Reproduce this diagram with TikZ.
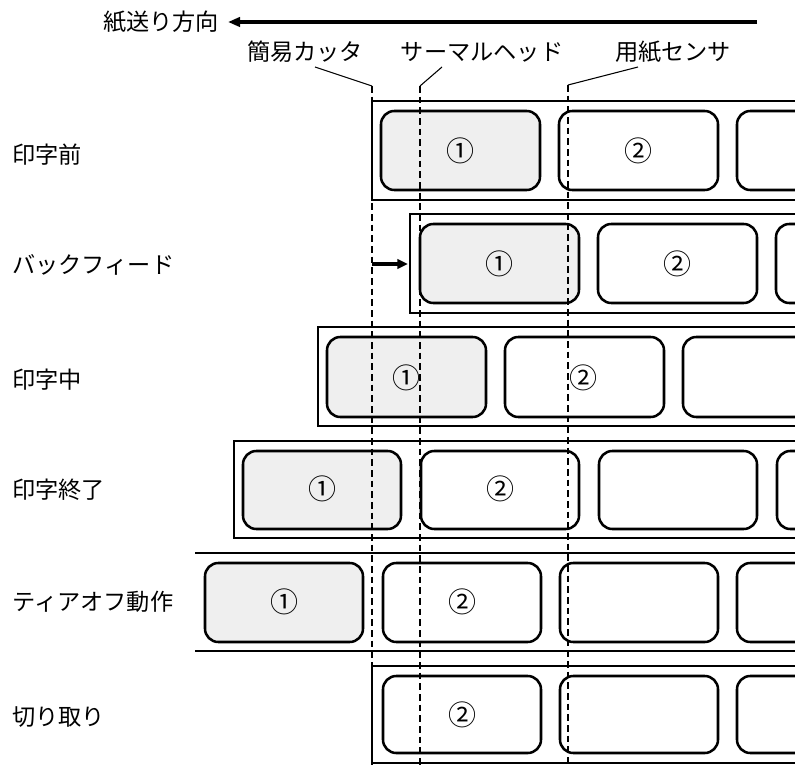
\documentclass[tikz,border=0pt]{standalone}
\usepackage{fontspec}
\newfontfamily\jp{Noto Sans CJK JP}
\usetikzlibrary{arrows.meta}
\definecolor{labgray}{HTML}{EFEFEF}
\tikzset{
  lbl/.style={font=\jp\fontsize{17.4}{20}\selectfont, inner sep=0pt},
  rowlbl/.style={lbl, anchor=west},
  num/.style={font=\jp\fontsize{21}{24}\selectfont, inner sep=0pt},
  stripline/.style={line width=1.9pt},
  labbox/.style={line width=1.9pt, rounded corners=10pt},
  firstbox/.style={labbox, fill=labgray},
  guide/.style={line width=0.8pt, dash pattern=on 5pt off 3pt},
  leader/.style={line width=0.8pt},
}
\begin{document}
\begin{tikzpicture}[x=0.75pt,y=-0.75pt]
\useasboundingbox (0,0) rectangle (795,767);
\begin{scope}
\clip (0,0) rectangle (795,767);

% title and feed arrow
\node[lbl] (feed) at (161,22) {紙送り方向};
\coordinate (arrR) at (757,22);
\coordinate (arrL) at (228,22);
\draw[line width=2.6pt, -{Triangle[length=9pt,width=7pt]}] (arrR) -- (arrL);

% component labels
\node[lbl] (cutter) at (305,52) {簡易カッタ};
\node[lbl] (head) at (482,52) {サーマルヘッド};
\node[lbl] (sensor) at (673,52) {用紙センサ};

% row labels
\node[rowlbl] (r1) at (12,155) {印字前};
\node[rowlbl] (r2) at (12,265) {バックフィード};
\node[rowlbl] (r3) at (12,380) {印字中};
\node[rowlbl] (r4) at (12,490) {印字終了};
\node[rowlbl] (r5) at (12,602) {ティアオフ動作};
\node[rowlbl] (r6) at (12,717) {切り取り};

% row 1: before printing
\draw[stripline] (800,101) -- (372,101) -- (372,200) -- (800,200);
\draw[firstbox] (381,111) rectangle ++(159,79);
\foreach \x in {559,737} \draw[labbox] (\x,111) rectangle ++(159,79);
\node[num] (a1) at (460,151) {①};
\node[num] (a2) at (638,151) {②};

% row 2: back feed
\draw[stripline] (800,214) -- (410,214) -- (410,313) -- (800,313);
\draw[firstbox] (420,224) rectangle ++(159,79);
\foreach \x in {598,776} \draw[labbox] (\x,224) rectangle ++(159,79);
\node[num] (b1) at (499,264) {①};
\node[num] (b2) at (677,264) {②};
\coordinate (bfL) at (372,264);
\coordinate (bfR) at (408,264);
\draw[line width=2.4pt, -{Triangle[length=8pt,width=7pt]}] (bfL) -- (bfR);

% row 3: printing
\draw[stripline] (800,327) -- (318,327) -- (318,426) -- (800,426);
\draw[firstbox] (327,337) rectangle ++(159,80);
\foreach \x in {505,683} \draw[labbox] (\x,337) rectangle ++(159,80);
\node[num] (c1) at (406,378) {①};
\node[num] (c2) at (583,378) {②};

% row 4: printing finished
\draw[stripline] (800,441) -- (234,441) -- (234,538) -- (800,538);
\draw[firstbox] (243,451) rectangle ++(158,78);
\foreach \x in {421,599,777} \draw[labbox] (\x,451) rectangle ++(158,78);
\node[num] (d1) at (322,489) {①};
\node[num] (d2) at (500,489) {②};

% row 5: tear-off operation
\draw[stripline] (195,553) -- (800,553);
\draw[stripline] (195,651) -- (800,651);
\draw[firstbox] (205,563) rectangle ++(158,79);
\foreach \x in {383,560,737} \draw[labbox] (\x,563) rectangle ++(158,79);
\node[num] (e1) at (284,602) {①};
\node[num] (e2) at (462,602) {②};

% row 6: cut off
\draw[stripline] (800,666) -- (372,666) -- (372,763) -- (800,763);
\foreach \x in {383,560,737} \draw[labbox] (\x,676) rectangle ++(158,77);
\node[num] (f2) at (462,715) {②};

% guide lines and leaders
\coordinate (cutTop) at (372,86);
\coordinate (headTop) at (420,86);
\coordinate (sensTop) at (568,85);
\coordinate (cutBot) at (372,767);
\coordinate (headBot) at (420,767);
\coordinate (sensBot) at (568,767);
\draw[guide] (cutTop) -- (cutBot);
\draw[guide] (headTop) -- (headBot);
\draw[guide] (sensTop) -- (sensBot);
\draw[leader] (315,67) -- (cutTop);
\draw[leader] (442,67) -- (headTop);
\draw[leader] (638,67) -- (sensTop);
\end{scope}
\end{tikzpicture}
\end{document}
